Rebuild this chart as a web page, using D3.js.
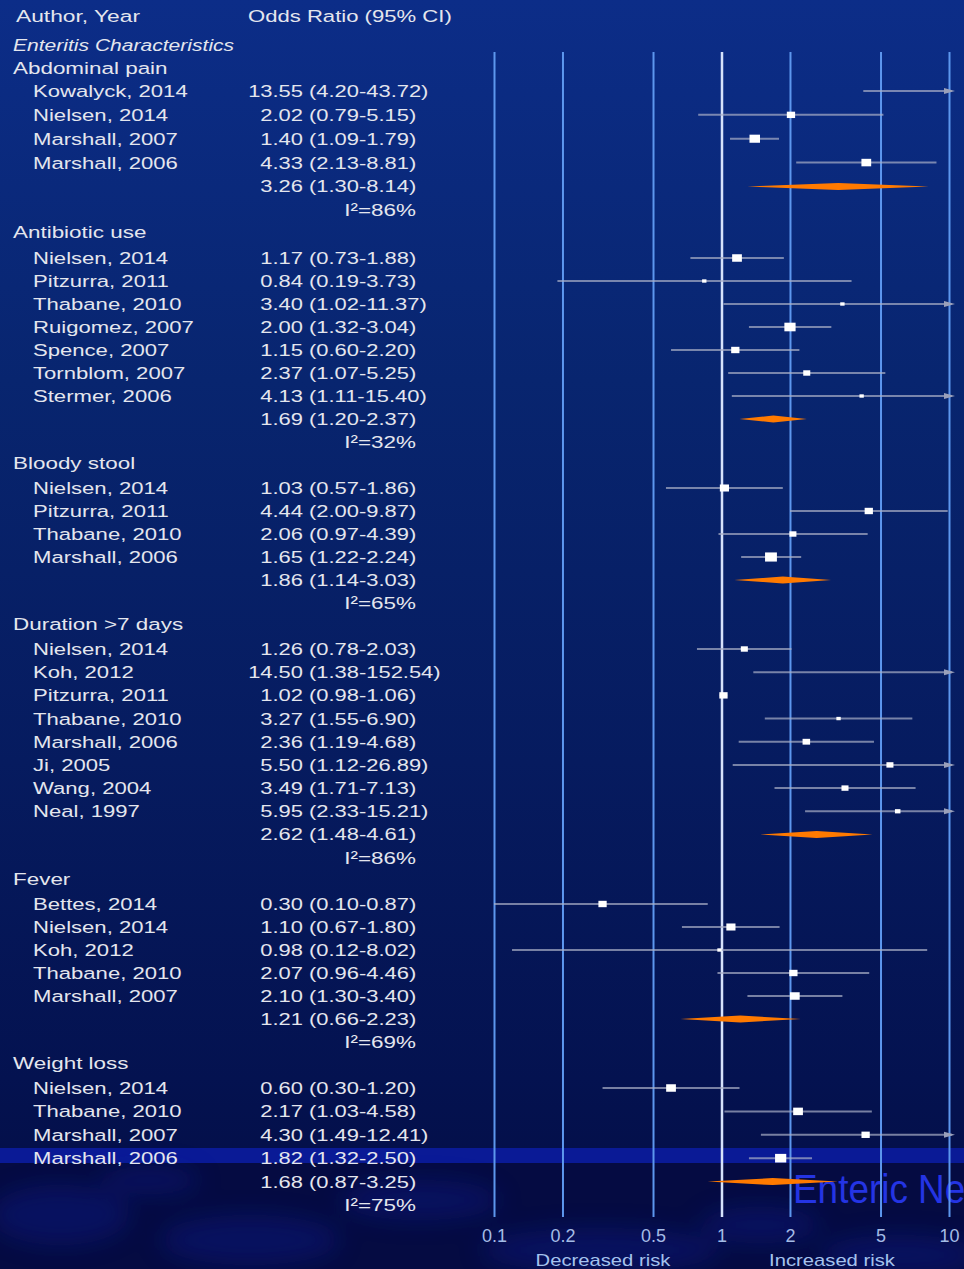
<!DOCTYPE html>
<html>
<head>
<meta charset="utf-8">
<script src="https://cdn.jsdelivr.net/npm/d3@7"></script>
<style>
  html, body { margin: 0; padding: 0; background: #050c40; overflow: hidden; }
</style>
</head>
<body>
<script>
// forest plot: enteritis characteristics, odds ratios (95% CI) on a log axis

var groupNames = ['Abdominal pain', 'Antibiotic use', 'Bloody stool', 'Duration >7 days', 'Fever', 'Weight loss'];

var studyGroup = [0, 0, 0, 0,
                  1, 1, 1, 1, 1, 1, 1,
                  2, 2, 2, 2,
                  3, 3, 3, 3, 3, 3, 3, 3,
                  4, 4, 4, 4, 4,
                  5, 5, 5, 5];

var studyLabel = [
    'Kowalyck, 2014', 'Nielsen, 2014', 'Marshall, 2007', 'Marshall, 2006',
    'Nielsen, 2014', 'Pitzurra, 2011', 'Thabane, 2010', 'Ruigomez, 2007', 'Spence, 2007', 'Tornblom, 2007', 'Stermer, 2006',
    'Nielsen, 2014', 'Pitzurra, 2011', 'Thabane, 2010', 'Marshall, 2006',
    'Nielsen, 2014', 'Koh, 2012', 'Pitzurra, 2011', 'Thabane, 2010', 'Marshall, 2006', 'Ji, 2005', 'Wang, 2004', 'Neal, 1997',
    'Bettes, 2014', 'Nielsen, 2014', 'Koh, 2012', 'Thabane, 2010', 'Marshall, 2007',
    'Nielsen, 2014', 'Thabane, 2010', 'Marshall, 2007', 'Marshall, 2006'
];

var studyOR = [13.55, 2.02, 1.40, 4.33,
               1.17, 0.84, 3.40, 2.00, 1.15, 2.37, 4.13,
               1.03, 4.44, 2.06, 1.65,
               1.26, 14.50, 1.02, 3.27, 2.36, 5.50, 3.49, 5.95,
               0.30, 1.10, 0.98, 2.07, 2.10,
               0.60, 2.17, 4.30, 1.82];

var studyLo = [4.20, 0.79, 1.09, 2.13,
               0.73, 0.19, 1.02, 1.32, 0.60, 1.07, 1.11,
               0.57, 2.00, 0.97, 1.22,
               0.78, 1.38, 0.98, 1.55, 1.19, 1.12, 1.71, 2.33,
               0.10, 0.67, 0.12, 0.96, 1.30,
               0.30, 1.03, 1.49, 1.32];

var studyHi = [43.72, 5.15, 1.79, 8.81,
               1.88, 3.73, 11.37, 3.04, 2.20, 5.25, 15.40,
               1.86, 9.87, 4.39, 2.24,
               2.03, 152.54, 1.06, 6.90, 4.68, 26.89, 7.13, 15.21,
               0.87, 1.80, 8.02, 4.46, 3.40,
               1.20, 4.58, 12.41, 2.50];

// relative study weight (%)
var studyWeight = [5, 18, 29, 25,
                   25, 5, 5, 33, 18, 13, 5,
                   22, 18, 13, 37,
                   13, 2, 18, 5, 15, 13, 13, 8,
                   18, 22, 5, 18, 25,
                   25, 25, 18, 33];

var pooledOR = [3.26, 1.69, 1.86, 2.62, 1.21, 1.68];
var pooledLo = [1.30, 1.20, 1.14, 1.48, 0.66, 0.87];
var pooledHi = [8.14, 2.37, 3.03, 4.61, 2.23, 3.25];
var pooledI2 = [86, 32, 65, 86, 69, 75];

var tickValues = [0.1, 0.2, 0.5, 1, 2, 5, 10];

//-------------

var width = 964;
var height = 1269;
var gridTop = 52;
var gridBottom = 1217;
var textColor = '#e4e6ee';

var svg = d3.select('body').append('svg')
    .attr('width', width)
    .attr('height', height)
    .style('display', 'block')
    .style('font-family', '"Liberation Sans", Arial, sans-serif');

var defs = svg.append('defs');

var grad = defs.append('linearGradient')
    .attr('id', 'bg')
    .attr('x1', 0).attr('y1', 0).attr('x2', 0).attr('y2', 1);
[['0', '#0c2d88'], ['0.3', '#08256f'], ['0.6', '#061b5f'], ['0.85', '#041250'], ['1', '#040c42']]
    .forEach(function(s) {
        grad.append('stop').attr('offset', s[0]).attr('stop-color', s[1]);
    });

defs.append('filter').attr('id', 'soft')
    .attr('x', '-50%').attr('y', '-50%').attr('width', '200%').attr('height', '200%')
    .append('feGaussianBlur').attr('stdDeviation', 12);

defs.append('filter').attr('id', 'lite')
    .append('feGaussianBlur').attr('stdDeviation', 0.5);

// background
svg.append('rect')
    .attr('width', width).attr('height', height)
    .attr('fill', 'url(#bg)');

// lighter band and textured bottom strip
svg.append('rect')
    .attr('x', 0).attr('y', 1148).attr('width', width).attr('height', 15)
    .attr('fill', '#0a1a96');
svg.append('rect')
    .attr('x', 0).attr('y', 1163).attr('width', width).attr('height', height - 1163)
    .attr('fill', '#050b42');

var blobs = svg.append('g').attr('filter', 'url(#soft)').attr('opacity', 0.35);
[[60, 1215, 70, 30], [250, 1240, 90, 25], [420, 1200, 80, 20], [600, 1250, 120, 22],
 [760, 1225, 60, 18], [900, 1255, 80, 20], [150, 1180, 50, 14]]
    .forEach(function(b) {
        blobs.append('ellipse')
            .attr('cx', b[0]).attr('cy', b[1]).attr('rx', b[2]).attr('ry', b[3])
            .attr('fill', '#0e1e96');
    });

// logo fragment behind the plot
svg.append('text')
    .attr('transform', 'translate(793,1203) scale(0.9,1)')
    .attr('font-size', 41)
    .attr('fill', '#2434e4')
    .text('Enteric Ne');

//------------- scales

var x = d3.scaleLog().domain([0.1, 10]).range([494, 949]);
// row index -> y, piecewise so the group breaks sit where the slide has them
var y = d3.scaleLinear()
    .domain([3, 10, 20, 27, 38, 46, 51])
    .range([91, 258, 488, 649, 904, 1088, 1205]);
var size = d3.scaleSqrt().domain([0, 100]).range([0, 15]);

// gridlines + tick labels through the axis
var axis = d3.axisBottom(x)
    .tickValues(tickValues)
    .tickFormat(d3.format('~g'))
    .tickSizeInner(-(gridBottom - gridTop))
    .tickSizeOuter(0)
    .tickPadding(12);

var axisG = svg.append('g')
    .attr('transform', 'translate(0,' + gridBottom + ')')
    .call(axis);

axisG.select('.domain').remove();
axisG.selectAll('.tick line')
    .attr('stroke', function(d) { return d === 1 ? '#d6e2fb' : '#5d97ee'; })
    .attr('stroke-width', function(d) { return d === 1 ? 2.5 : 2; });
axisG.selectAll('.tick text')
    .attr('fill', '#a4bce6')
    .attr('font-size', 18)
    .attr('font-family', '"Liberation Sans", Arial, sans-serif');

//------------- text helper

function label(px, py, str, opt) {
    opt = opt || {};
    return svg.append('text')
        .attr('transform', 'translate(' + px + ',' + py + ') scale(' + (opt.sx || 1.29) + ',1)')
        .attr('dy', opt.dy !== undefined ? opt.dy : '0.35em')
        .attr('text-anchor', opt.anchor || 'start')
        .attr('font-size', opt.size || 17)
        .attr('font-style', opt.italic ? 'italic' : null)
        .attr('fill', opt.color || textColor)
        .text(str);
}

label(16, 22, 'Author, Year', {dy: 0, sx: 1.34});
label(248, 22, 'Odds Ratio (95% CI)', {dy: 0, sx: 1.30});
label(13, 45, 'Enteritis Characteristics', {italic: true, sx: 1.24});

label(603, 1266, 'Decreased risk', {dy: 0, sx: 1.19, color: '#a4c2ee', anchor: 'middle'});
label(832, 1266, 'Increased risk', {dy: 0, sx: 1.19, color: '#a4c2ee', anchor: 'middle'});

//------------- rows

var rows = [];
var idx = 2;
groupNames.forEach(function(name, gi) {
    rows.push({type: 'group', gi: gi, idx: idx++});
    studyGroup.forEach(function(g, i) {
        if (g === gi) rows.push({type: 'study', i: i, idx: idx++});
    });
    rows.push({type: 'pooled', gi: gi, idx: idx++});
    rows.push({type: 'i2', gi: gi, idx: idx++});
});

var f2 = d3.format('.2f');
var orAnchor = 303;

rows.forEach(function(r) {
    var yy = y(r.idx);
    if (r.type === 'group') {
        label(13, r.gi === 0 ? yy + 1 : yy - 2, groupNames[r.gi], {sx: 1.32});
    } else if (r.type === 'study') {
        label(33, yy, studyLabel[r.i], {sx: 1.3});
        label(orAnchor, yy, f2(studyOR[r.i]), {anchor: 'end'});
        label(orAnchor + 6, yy, '(' + f2(studyLo[r.i]) + '-' + f2(studyHi[r.i]) + ')');
    } else if (r.type === 'pooled') {
        label(orAnchor, yy, f2(pooledOR[r.gi]), {anchor: 'end'});
        label(orAnchor + 6, yy, '(' + f2(pooledLo[r.gi]) + '-' + f2(pooledHi[r.gi]) + ')');
    } else {
        label(416, yy, 'I\u00b2=' + pooledI2[r.gi] + '%', {anchor: 'end', sx: 1.32});
    }
});

//------------- marks

var studyRows = rows.filter(function(r) { return r.type === 'study'; });
var pooledRows = rows.filter(function(r) { return r.type === 'pooled'; });

var xMin = x(0.1);
var xMax = x(10) + 3;
function clampX(v) { return Math.max(xMin, Math.min(xMax, x(v))); }

var plot = svg.append('g');

// confidence intervals
plot.selectAll('line.ci')
    .data(studyRows)
    .enter().append('line')
    .attr('class', 'ci')
    .attr('x1', function(d) { return clampX(studyLo[d.i]); })
    .attr('x2', function(d) { return clampX(studyHi[d.i]); })
    .attr('y1', function(d) { return y(d.idx); })
    .attr('y2', function(d) { return y(d.idx); })
    .attr('stroke', '#a9afc6')
    .attr('stroke-opacity', 0.7)
    .attr('stroke-width', 2);

// clipped ends where the interval runs past the axis
plot.selectAll('path.arrow')
    .data(studyRows.filter(function(d) { return studyHi[d.i] > 10; }))
    .enter().append('path')
    .attr('class', 'arrow')
    .attr('d', function(d) {
        var yy = y(d.idx);
        return 'M' + (xMax - 8) + ',' + (yy - 3) + 'L' + (xMax + 3) + ',' + yy + 'L' + (xMax - 8) + ',' + (yy + 3) + 'Z';
    })
    .attr('fill', '#9aa0ba');

// study markers
plot.selectAll('rect.pt')
    .data(studyRows.filter(function(d) { return studyOR[d.i] <= 10; }))
    .enter().append('rect')
    .attr('class', 'pt')
    .attr('x', function(d) { return x(studyOR[d.i]) - size(studyWeight[d.i]) * 0.65; })
    .attr('y', function(d) { return y(d.idx) - size(studyWeight[d.i]) / 2; })
    .attr('width', function(d) { return size(studyWeight[d.i]) * 1.3; })
    .attr('height', function(d) { return size(studyWeight[d.i]); })
    .attr('fill', '#ffffff')
    .attr('filter', 'url(#lite)');

// pooled diamonds
plot.selectAll('path.pooled')
    .data(pooledRows)
    .enter().append('path')
    .attr('class', 'pooled')
    .attr('d', function(d) {
        var yy = y(d.idx);
        var lo = x(pooledLo[d.gi]), hi = x(pooledHi[d.gi]), mid = x(pooledOR[d.gi]);
        return 'M' + lo + ',' + yy + 'L' + mid + ',' + (yy - 3.5) + 'L' + hi + ',' + yy + 'L' + mid + ',' + (yy + 3.5) + 'Z';
    })
    .attr('fill', '#ff7a00')
    .attr('filter', 'url(#lite)');
</script>
</body>
</html>
